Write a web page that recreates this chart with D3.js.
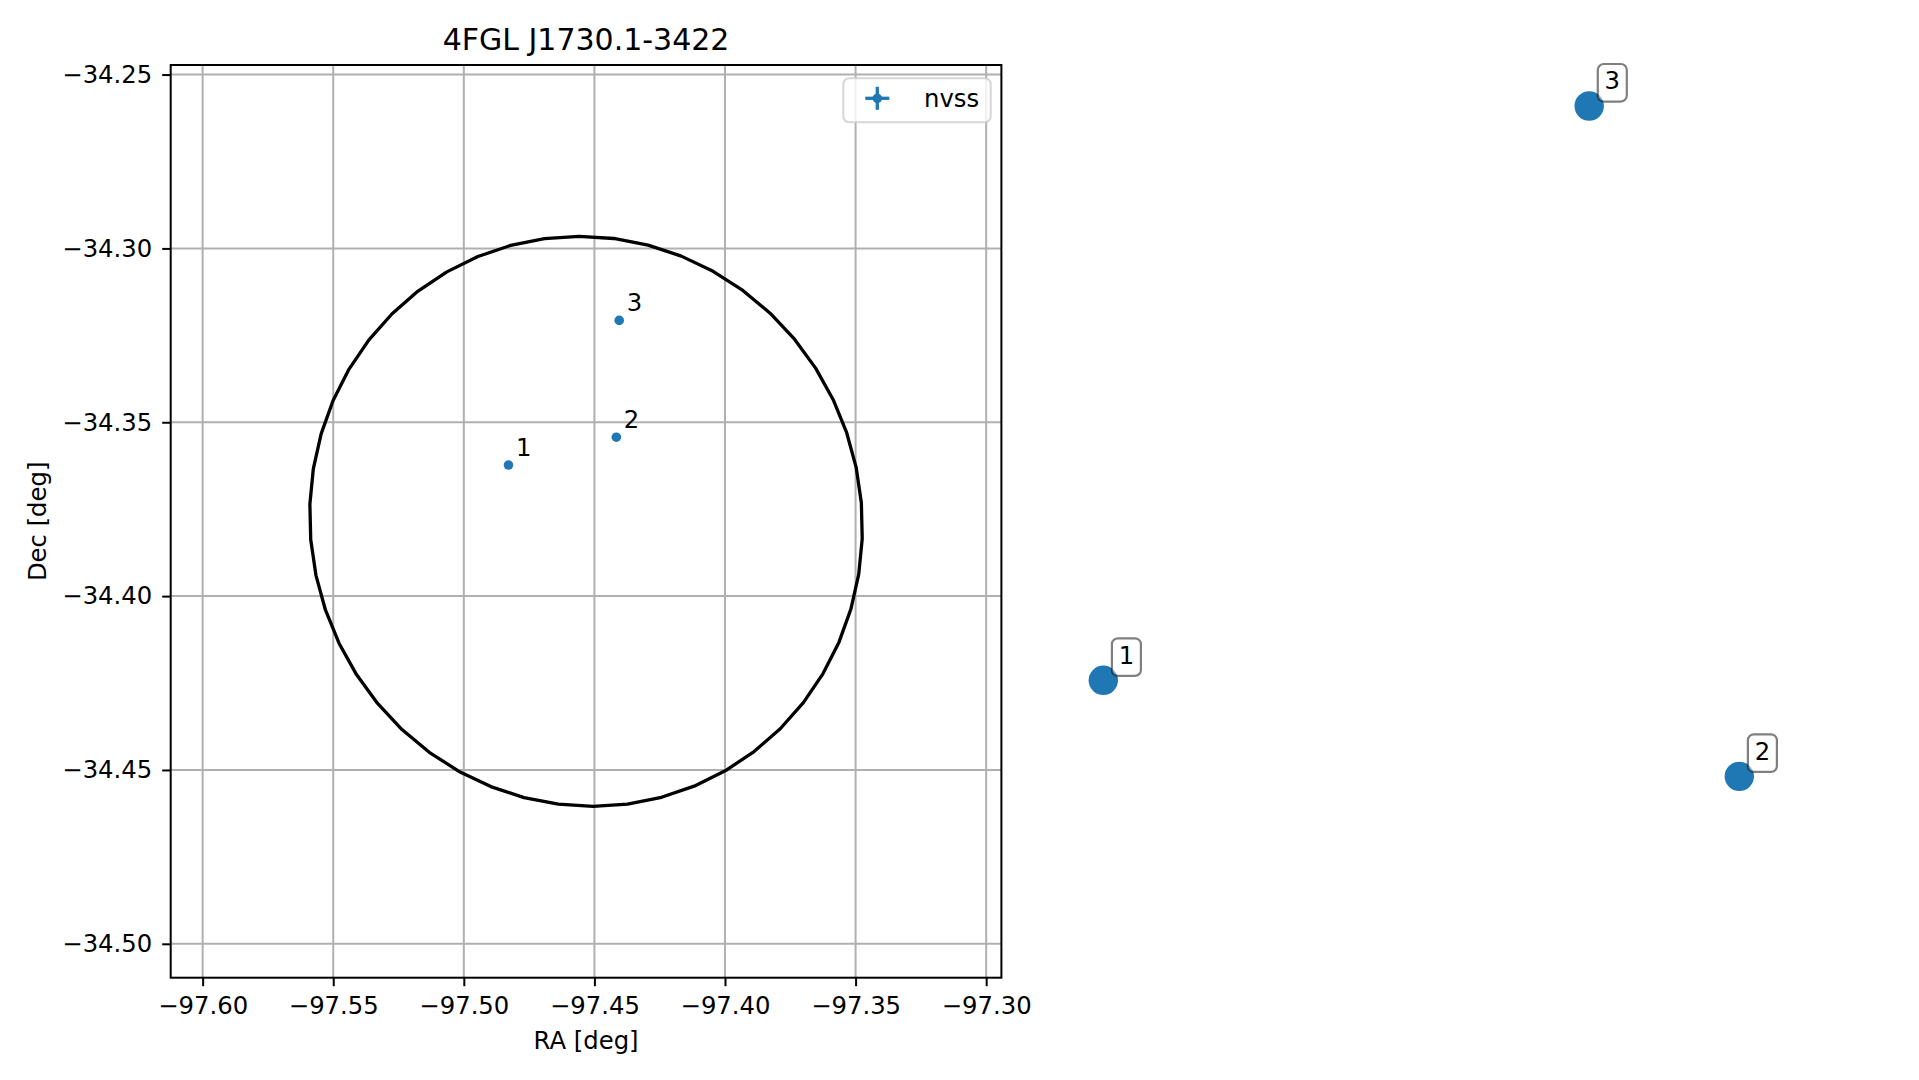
<!DOCTYPE html>
<html>
<head>
<meta charset="utf-8">
<script src="https://cdn.jsdelivr.net/npm/d3@7"></script>
<style>
  html, body { margin: 0; padding: 0; background: #ffffff; }
  svg { display: block; font-family: "DejaVu Sans", sans-serif; }
</style>
</head>
<body>
<svg id="chart" width="1919" height="1080"></svg>
<script>
// ---------------- data ----------------
const title = "4FGL J1730.1-3422";
const sourceLabels = ["1", "2", "3"];
const sourceRA = [-97.4829, -97.4416, -97.4405];
const sourceDec = [-34.3623, -34.3543, -34.3207];
// 95% error ellipse (tangent-plane degrees)
const ellipseCenter = [-97.4532, -34.3785];
const ellipseAxes = [0.0875, 0.0818];      // semi-major, semi-minor
const ellipseAngleDeg = [-10];
const ellipseVertices = [50];
const viewHalfDec = [0.13125];
const xTicks = [-97.60, -97.55, -97.50, -97.45, -97.40, -97.35, -97.30];
const yTicks = [-34.25, -34.30, -34.35, -34.40, -34.45, -34.50];
const legendLabel = ["nvss"];
// second panel (axes hidden) – relative values
const panel2X = [0.000, 1.000, 0.764];
const panel2Y = [0.000, -0.151, 0.903];
const panel2Labels = ["1", "2", "3"];

// ---------------- layout ----------------
const svg = d3.select("#chart");
const W = 1919, H = 1080;
svg.append("rect").attr("width", W).attr("height", H).attr("fill", "#ffffff");

const ax = {left: 170.7, right: 1001.4, top: 65, bottom: 977.7};
const cosDec = Math.cos(ellipseCenter[1] * Math.PI / 180);
const halfRA = viewHalfDec[0] / cosDec;
const x = d3.scaleLinear()
  .domain([ellipseCenter[0] - halfRA, ellipseCenter[0] + halfRA])
  .range([ax.left, ax.right]);
const y = d3.scaleLinear()
  .domain([ellipseCenter[1] + viewHalfDec[0], ellipseCenter[1] - viewHalfDec[0]])
  .range([ax.top, ax.bottom]);

const FS = 24.3;
const blue = "#1f77b4";
const fmt = v => d3.format(".2f")(v).replace("-", "\u2212");

const g = svg.append("g");

// clip
svg.append("defs").append("clipPath").attr("id", "clipAx")
  .append("rect").attr("x", ax.left).attr("y", ax.top)
  .attr("width", ax.right - ax.left).attr("height", ax.bottom - ax.top);

// grid
const gridG = g.append("g").attr("clip-path", "url(#clipAx)");
gridG.selectAll("line.gx").data(xTicks).enter().append("line")
  .attr("x1", d => x(d)).attr("x2", d => x(d))
  .attr("y1", ax.top).attr("y2", ax.bottom)
  .attr("stroke", "#b0b0b0").attr("stroke-width", 2);
gridG.selectAll("line.gy").data(yTicks).enter().append("line")
  .attr("y1", d => y(d)).attr("y2", d => y(d))
  .attr("x1", ax.left).attr("x2", ax.right)
  .attr("stroke", "#b0b0b0").attr("stroke-width", 2);

// ellipse polygon
const n = ellipseVertices[0];
const th = ellipseAngleDeg[0] * Math.PI / 180;
const ellPts = d3.range(n + 1).map(i => {
  const t = 2 * Math.PI * i / n;
  const ex = ellipseAxes[0] * Math.cos(t), ey = ellipseAxes[1] * Math.sin(t);
  const dx = ex * Math.cos(th) - ey * Math.sin(th);
  const dy = ex * Math.sin(th) + ey * Math.cos(th);
  return [ellipseCenter[0] + dx / cosDec, ellipseCenter[1] + dy];
});
gridG.append("path")
  .attr("d", d3.line().x(d => x(d[0])).y(d => y(d[1]))(ellPts))
  .attr("fill", "none").attr("stroke", "#000").attr("stroke-width", 3.3)
  .attr("stroke-linejoin", "round");

// points
const pts = sourceRA.map((r, i) => ({ra: r, dec: sourceDec[i], lab: sourceLabels[i]}));
gridG.selectAll("circle.src").data(pts).enter().append("circle")
  .attr("cx", d => x(d.ra)).attr("cy", d => y(d.dec)).attr("r", 4.8)
  .attr("fill", blue);
g.selectAll("text.srclab").data(pts).enter().append("text")
  .attr("x", d => x(d.ra) + 7.5).attr("y", d => y(d.dec) - 9)
  .attr("font-size", FS).attr("fill", "#000").text(d => d.lab);

// spines
g.append("rect").attr("x", ax.left).attr("y", ax.top)
  .attr("width", ax.right - ax.left).attr("height", ax.bottom - ax.top)
  .attr("fill", "none").attr("stroke", "#000").attr("stroke-width", 2);

// x axis
const xa = g.append("g").attr("transform", `translate(0,${ax.bottom})`)
  .call(d3.axisBottom(x).tickValues(xTicks).tickFormat(fmt).tickSize(8.5).tickPadding(10.5));
xa.select(".domain").remove();
xa.selectAll(".tick line").attr("stroke", "#000").attr("stroke-width", 2);
xa.selectAll(".tick text").attr("font-size", FS).attr("fill", "#000")
  .attr("font-family", "DejaVu Sans");

// y axis
const ya = g.append("g").attr("transform", `translate(${ax.left},0)`)
  .call(d3.axisLeft(y).tickValues(yTicks).tickFormat(fmt).tickSize(8.5).tickPadding(10));
ya.select(".domain").remove();
ya.selectAll(".tick line").attr("stroke", "#000").attr("stroke-width", 2);
ya.selectAll(".tick text").attr("font-size", FS).attr("fill", "#000")
  .attr("font-family", "DejaVu Sans");

// labels
g.append("text").attr("x", (ax.left + ax.right) / 2).attr("y", 1048.5)
  .attr("text-anchor", "middle").attr("font-size", FS).text("RA [deg]");
g.append("text").attr("transform", `translate(46,${(ax.top + ax.bottom) / 2}) rotate(-90)`)
  .attr("text-anchor", "middle").attr("font-size", FS).text("Dec [deg]");
g.append("text").attr("x", (ax.left + ax.right) / 2).attr("y", 50)
  .attr("text-anchor", "middle").attr("font-size", 30).text(title);

// legend
const lg = g.append("g");
lg.append("rect").attr("x", 843.3).attr("y", 78.3).attr("width", 147.4).attr("height", 44)
  .attr("rx", 6).attr("fill", "#fff").attr("fill-opacity", 0.8)
  .attr("stroke", "#cccccc").attr("stroke-opacity", 0.8).attr("stroke-width", 2);
const lx = 877.3, ly = 98.3;
lg.append("line").attr("x1", lx - 12).attr("x2", lx + 12).attr("y1", ly).attr("y2", ly)
  .attr("stroke", blue).attr("stroke-width", 3.3);
lg.append("line").attr("x1", lx).attr("x2", lx).attr("y1", ly - 11.5).attr("y2", ly + 11.5)
  .attr("stroke", blue).attr("stroke-width", 3.3);
lg.append("circle").attr("cx", lx).attr("cy", ly).attr("r", 4.8).attr("fill", blue);
lg.append("text").attr("x", 924).attr("y", 106.5).attr("font-size", FS).text(legendLabel[0]);

// ---------------- second panel (axes off) ----------------
const x2 = d3.scaleLinear().domain([0, 1]).range([1103.3, 1739.3]);
const y2 = d3.scaleLinear().domain([0, 1]).range([680.3, 44.3]);
const p2 = panel2X.map((v, i) => ({x: v, y: panel2Y[i], lab: panel2Labels[i]}));
const g2 = svg.append("g");
g2.selectAll("circle").data(p2).enter().append("circle")
  .attr("cx", d => x2(d.x)).attr("cy", d => y2(d.y)).attr("r", 14.7).attr("fill", blue);
const ann = g2.selectAll("g.ann").data(p2).enter().append("g")
  .attr("transform", d => `translate(${x2(d.x)},${y2(d.y)})`);
ann.append("rect").attr("x", 8.6).attr("y", -42).attr("width", 29).attr("height", 37.6)
  .attr("rx", 6).attr("fill", "#fff").attr("fill-opacity", 0.5)
  .attr("stroke", "#000").attr("stroke-opacity", 0.5).attr("stroke-width", 2.2);
ann.append("text").attr("x", 23.1).attr("y", -16.5).attr("text-anchor", "middle")
  .attr("font-size", FS).text(d => d.lab);
</script>
</body>
</html>
